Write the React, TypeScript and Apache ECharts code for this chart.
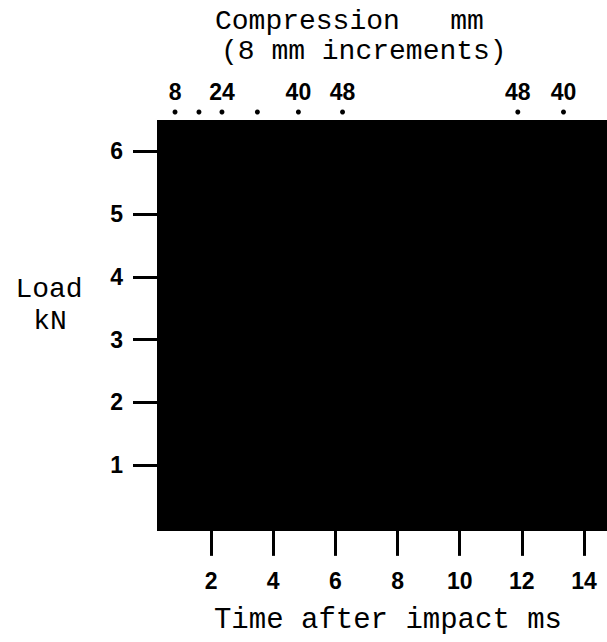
import React, { useEffect, useRef } from "react";
import * as echarts from "echarts";

// Time axis (ms)
const timeMin = 0.26;
const timeMax = 14.74;
const timeTicks = [2, 4, 6, 8, 10, 12, 14];
// Load axis (kN)
const loadMin = -0.05;
const loadMax = 6.5;
const loadTicks = [1, 2, 3, 4, 5, 6];
// Compression marks (8 mm increments) at times after impact
const dotTimes = [0.84, 1.61, 2.35, 3.49, 4.81, 6.23, 11.87, 13.34];
const compression = [8, 16, 24, 32, 40, 48, 48, 40];
const labeled = [true, false, true, false, true, true, true, true];

const numFont = "Liberation Sans";
const monoFont = "Liberation Mono";

function txt(text: string, x: number, y: number, size: number, align: string) {
  return {
    type: "text",
    x,
    y,
    silent: true,
    style: {
      text,
      font: `${size}px "${monoFont}", monospace`,
      fill: "#000",
      align,
      verticalAlign: "middle",
      textAlign: align,
      textVerticalAlign: "middle",
    },
  };
}

const numLabel = {
  color: "#000",
  fontSize: 23,
  fontWeight: "bold",
  fontFamily: numFont,
};

export default function App() {
  const ref = useRef<HTMLDivElement>(null);
  useEffect(() => {
    if (!ref.current) return;
    const chart = echarts.init(ref.current, undefined, { renderer: "svg" });
    chart.setOption({
      animation: false,
      backgroundColor: "#fff",
      grid: [
        {
          left: 157,
          right: 0,
          top: 120,
          bottom: 111,
          show: true,
          backgroundColor: "#000",
          borderWidth: 0,
        },
        { left: 157, right: 0, top: 102, height: 20, show: false },
      ],
      xAxis: [
        {
          type: "value",
          gridIndex: 0,
          min: timeMin,
          max: timeMax,
          axisLine: { show: false },
          splitLine: { show: false },
          axisTick: {
            show: true,
            length: 28,
            customValues: timeTicks,
            lineStyle: { color: "#000", width: 3 },
          },
          axisLabel: {
            customValues: timeTicks,
            margin: 38,
            ...numLabel,
          },
        },
        {
          type: "value",
          gridIndex: 1,
          min: timeMin,
          max: timeMax,
          show: false,
        },
      ],
      yAxis: [
        {
          type: "value",
          gridIndex: 0,
          min: loadMin,
          max: loadMax,
          axisLine: { show: false },
          splitLine: { show: false },
          axisTick: {
            show: true,
            length: 24,
            customValues: loadTicks,
            lineStyle: { color: "#000", width: 3 },
          },
          axisLabel: {
            customValues: loadTicks,
            margin: 34,
            ...numLabel,
          },
        },
        { type: "value", gridIndex: 1, min: 0, max: 1, show: false },
      ],
      series: [
        {
          type: "scatter",
          xAxisIndex: 1,
          yAxisIndex: 1,
          clip: false,
          symbol: "circle",
          symbolSize: 5,
          itemStyle: { color: "#000", opacity: 1 },
          data: dotTimes.map((t, i) => [t, 0.5, compression[i]]),
          label: {
            show: true,
            position: "top",
            distance: 6,
            ...numLabel,
            formatter: (p: any) =>
              labeled[p.dataIndex] ? String(compression[p.dataIndex]) : "",
          },
        },
      ],
      graphic: [
        txt("Compression   mm", 215, 21, 28, "left"),
        txt("(8 mm increments)", 221, 51, 28, "left"),
        txt("Load", 49, 289, 28, "center"),
        txt("kN", 50, 321, 28, "center"),
        txt("Time after impact ms", 388, 620, 29, "center"),
      ],
    });
    return () => chart.dispose();
  }, []);
  return (
    <div
      ref={ref}
      style={{ position: "fixed", left: 0, top: 0, width: 607, height: 642 }}
    />
  );
}
